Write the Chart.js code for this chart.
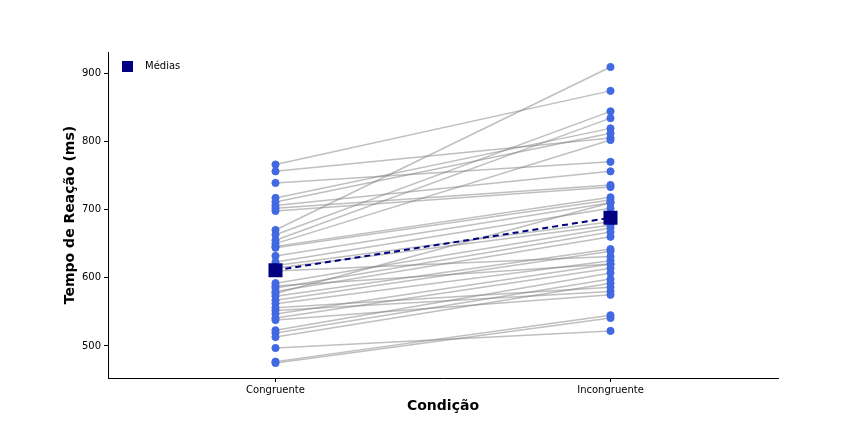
<!DOCTYPE html>
<html>
<head>
<meta charset="utf-8">
<script src="https://cdn.jsdelivr.net/npm/chart.js@4/dist/chart.umd.min.js"></script>
<style>
  html, body { margin: 0; padding: 0; background: #fff; }
  #wrap { width: 864px; height: 432px; }
</style>
</head>
<body>
<div id="wrap"><canvas id="chart" width="864" height="432"></canvas></div>
<script>
const categories = ['Congruente', 'Incongruente'];
// reaction times per participant (ms)
const congruente = [766, 756, 739, 717, 711, 706, 702, 698, 670, 663, 655, 650, 646, 644, 632, 623, 618, 614, 592, 585,
  580, 577, 573, 567, 562, 547, 541, 523, 519, 513, 497, 477, 475, 610, 588, 556, 552, 538];
const incongruente = [874, 805, 770, 819, 812, 756, 736, 733, 909, 844, 834, 802, 718, 714, 710, 702, 682, 677, 673, 667,
  660, 710, 642, 639, 625, 620, 614, 607, 598, 592, 522, 545, 541, 631, 620, 586, 580, 575];
const medias = [611, 688];
const yTicks = [500, 600, 700, 800, 900];

const FONT = 'DejaVu Sans, sans-serif';

// one gray line per participant
const pairDatasets = congruente.map((c, i) => ({
  type: 'line',
  data: [{ x: 0, y: c }, { x: 1, y: incongruente[i] }],
  borderColor: 'rgba(128,128,128,0.5)', borderWidth: 1.5,
  pointRadius: 0, pointHoverRadius: 0, fill: false, order: 3
}));

const pointsDataset = {
  type: 'scatter', label: 'pontos',
  data: congruente.map(v => ({ x: 0, y: v })).concat(incongruente.map(v => ({ x: 1, y: v }))),
  backgroundColor: '#4169E1', borderColor: '#4169E1', pointRadius: 3.6, order: 2
};

const meanDataset = {
  type: 'line', label: 'Médias',
  data: medias.map((v, i) => ({ x: i, y: v })),
  borderColor: '#000080', borderWidth: 2, borderDash: [6, 4], fill: false,
  pointStyle: 'rect', pointRadius: 8.5, pointBackgroundColor: '#000080', pointBorderColor: '#000080',
  order: 1
};

// small legend inside the plot, top-left, like matplotlib's
const innerLegend = {
  id: 'innerLegend',
  afterDraw(chart) {
    const { ctx, chartArea } = chart;
    ctx.save();
    ctx.fillStyle = '#000080';
    ctx.fillRect(chartArea.left + 14, chartArea.top + 9, 11, 11);
    ctx.fillStyle = '#000';
    ctx.font = '10px ' + FONT;
    ctx.textBaseline = 'middle';
    ctx.fillText(meanDataset.label, chartArea.left + 37, chartArea.top + 14);
    ctx.restore();
  }
};

const axisGrid = { display: true, drawOnChartArea: false, drawTicks: true, tickLength: 4, tickColor: '#000', tickWidth: 1 };

new Chart(document.getElementById('chart'), {
  data: { datasets: [...pairDatasets, pointsDataset, meanDataset] },
  options: {
    responsive: false, animation: false,
    layout: { padding: { top: 52, right: 86, left: 58, bottom: 13 } },
    plugins: { legend: { display: false }, tooltip: { enabled: false } },
    scales: {
      x: {
        type: 'linear', min: -0.5, max: 1.5,
        afterBuildTicks: s => { s.ticks = categories.map((_, i) => ({ value: i })); },
        afterFit: s => { s.height = 41; },
        grid: axisGrid,
        border: { color: '#000', width: 1 },
        ticks: { color: '#000', font: { family: FONT, size: 10 }, padding: 2, maxRotation: 0, callback: v => categories[v] },
        title: { display: true, text: 'Condição', color: '#000', font: { family: FONT, size: 14, weight: 'bold' }, padding: { top: 4 } }
      },
      y: {
        min: 453, max: 931,
        afterBuildTicks: s => { s.ticks = yTicks.map(v => ({ value: v })); },
        afterFit: s => { s.width = 50; },
        grid: axisGrid,
        border: { color: '#000', width: 1 },
        ticks: { color: '#000', font: { family: FONT, size: 10 }, padding: 3 },
        title: { display: true, text: 'Tempo de Reação (ms)', color: '#000', font: { family: FONT, size: 14, weight: 'bold' }, padding: { bottom: 8 } }
      }
    }
  },
  plugins: [innerLegend]
});
</script>
</body>
</html>
